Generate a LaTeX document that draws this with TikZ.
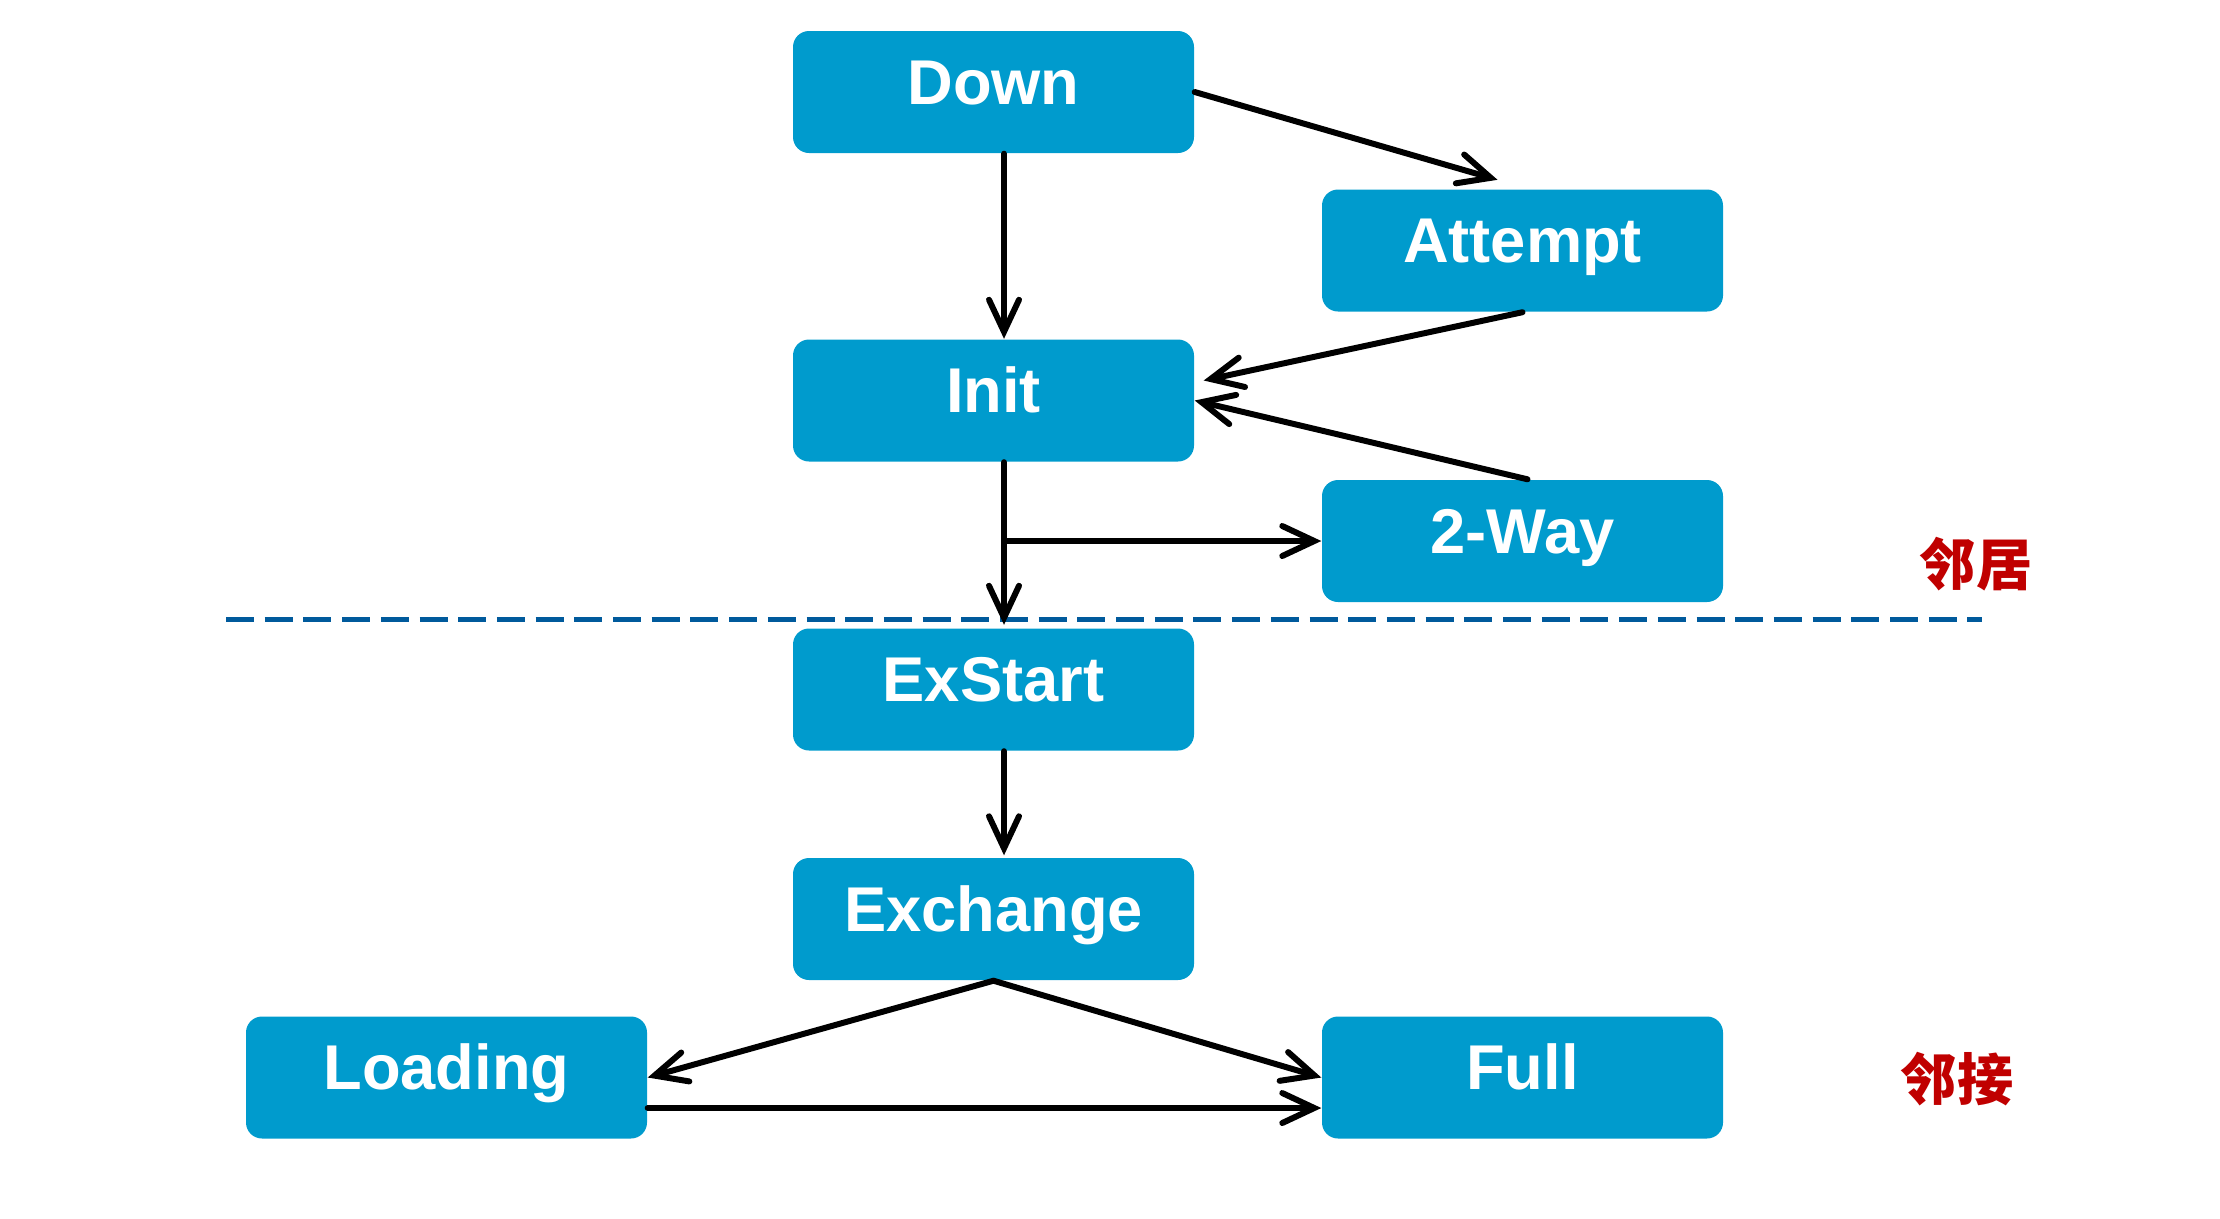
\documentclass[tikz,border=0pt]{standalone}
\usepackage{fontspec}
\setmainfont{Liberation Sans}
\newfontfamily\cjk{Noto Sans CJK SC}
\usetikzlibrary{positioning,arrows.meta,calc}
\definecolor{boxblue}{RGB}{0,155,205}
\definecolor{lineblue}{RGB}{0,90,156}
\definecolor{labelred}{RGB}{192,0,0}

\begin{document}
\begin{tikzpicture}[
  state/.style={rectangle,rounded corners=0.16cm,fill=boxblue,text=white,
    minimum width=4.01cm,minimum height=1.22cm,inner sep=0pt,
    text height=13pt,text depth=6pt,
    font=\fontsize{18}{20}\selectfont\bfseries},
  trans/.style={line width=1.7pt,line cap=round,
    -{Straight Barb[length=3.2mm,width=3mm,line cap=round]}},
  zone/.style={text=labelred,font=\cjk\fontsize{16}{18}\selectfont\bfseries}
]
  \useasboundingbox (0,0) rectangle (22.2,-12.18);

  \node[state] (down) at (9.935,-0.92) {Down};
  \node[state] (attempt) at (15.225,-2.505) {Attempt};
  \node[state] (init) at (9.935,-4.005) {Init};
  \node[state] (twoway) at (15.225,-5.41) {2-Way};
  \node[state] (exstart) at (9.935,-6.895) {ExStart};
  \node[state] (exchange) at (9.935,-9.19) {Exchange};
  \node[state] (loading) at (4.465,-10.775) {Loading};
  \node[state] (full) at (15.225,-10.775) {Full};

  \node[zone] (neighbor) at (19.76,-5.64) {邻居};
  \node[zone] (adjacency) at (19.57,-10.795) {邻接};

  % boundary between the two groups
  \coordinate (dashleft) at (2.26,-6.195);
  \coordinate (dashright) at (19.82,-6.195);
  \draw[lineblue,line width=1.15pt,dash pattern=on 0.28cm off 0.107cm] (dashleft) -- (dashright);

  \coordinate (branch) at ($(init.south -| exstart.north)+(0.105,0)$);
  \draw[trans] ([xshift=0.105cm]down.south) -- ([xshift=0.105cm]init.north);
  \draw[trans] (down.east) -- ([xshift=-0.25cm,yshift=0.09cm]attempt.north);
  \draw[trans] (attempt.south) -- ([xshift=0.09cm,yshift=0.2cm]init.east);
  \draw[trans] ([xshift=0.05cm]twoway.north) -- (init.east);
  \draw[trans] (branch) -- ([xshift=0.105cm,yshift=0.03cm]exstart.north);
  \draw[trans] (branch |- twoway.west) -- (twoway.west);
  \draw[trans] ([xshift=0.105cm]exstart.south) -- ([xshift=0.105cm,yshift=0.02cm]exchange.north);
  \draw[trans] (exchange.south) -- (loading.east);
  \draw[trans] (exchange.south) -- (full.west);
  \draw[trans] ([yshift=-0.305cm]loading.east) -- ([yshift=-0.305cm]full.west);
\end{tikzpicture}
\end{document}
